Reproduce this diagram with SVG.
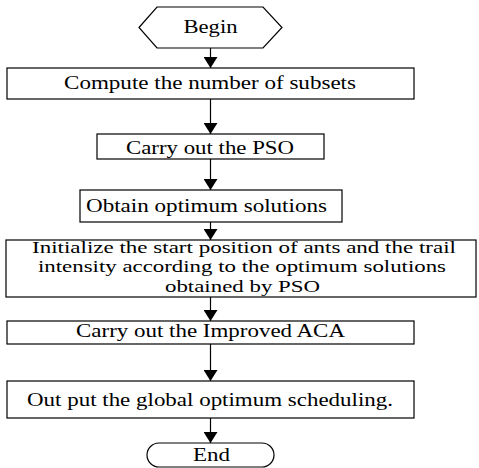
<svg xmlns="http://www.w3.org/2000/svg" width="479" height="468" viewBox="0 0 479 468">
<style>
.box{fill:#fff;stroke:#000;stroke-width:1.2}
.t{font-family:"Liberation Serif","Times New Roman",serif;font-size:19px;fill:#000;text-anchor:middle}
.s{font-size:17px}
.c{stroke:#000;stroke-width:1.2;fill:none;marker-end:url(#ah)}
</style>
<defs>
<marker id="ah" viewBox="0 0 11 14" refX="11" refY="7" markerWidth="11" markerHeight="14" orient="auto" markerUnits="userSpaceOnUse">
<path d="M0,0 L11,7 L0,14 z" fill="#000"/>
</marker>
</defs>
<rect width="479" height="468" fill="#fff"/>
<g id="connectors">
<line class="c" x1="210.5" y1="48" x2="210.5" y2="68"/>
<line class="c" x1="210.5" y1="99" x2="210.5" y2="134"/>
<line class="c" x1="210.5" y1="159" x2="210.5" y2="190"/>
<line class="c" x1="210.5" y1="222" x2="210.5" y2="240"/>
<line class="c" x1="210.5" y1="297" x2="210.5" y2="321"/>
<line class="c" x1="210.5" y1="344" x2="210.5" y2="381"/>
<line class="c" x1="210.5" y1="418" x2="210.5" y2="443"/>
</g>
<g id="begin">
<polygon class="box" points="139,27.5 157,7 263,7 282,27.5 263,48 157,48"/>
<text class="t" x="210.5" y="33" textLength="54" lengthAdjust="spacingAndGlyphs">Begin</text>
</g>
<g id="compute">
<rect class="box" x="7" y="68" width="407" height="31"/>
<text class="t" x="210" y="89" textLength="292" lengthAdjust="spacingAndGlyphs">Compute the number of subsets</text>
</g>
<g id="pso">
<rect class="box" x="97" y="134" width="227" height="25"/>
<text class="t" x="210" y="154" textLength="168" lengthAdjust="spacingAndGlyphs">Carry out the PSO</text>
</g>
<g id="obtain">
<rect class="box" x="80" y="190" width="262" height="32"/>
<text class="t" x="206.5" y="212" textLength="241" lengthAdjust="spacingAndGlyphs">Obtain optimum solutions</text>
</g>
<g id="initialize">
<rect class="box" x="6" y="240" width="470" height="57"/>
<text class="t s" x="244" y="253" textLength="424" lengthAdjust="spacingAndGlyphs">Initialize the start position of ants and the trail</text>
<text class="t s" x="242" y="272" textLength="408" lengthAdjust="spacingAndGlyphs">intensity according to the optimum solutions</text>
<text class="t s" x="242.5" y="292" textLength="155" lengthAdjust="spacingAndGlyphs">obtained by PSO</text>
</g>
<g id="aca">
<rect class="box" x="7" y="321" width="407" height="23"/>
<text class="t" x="210.5" y="337" textLength="269" lengthAdjust="spacingAndGlyphs">Carry out the Improved ACA</text>
</g>
<g id="output">
<rect class="box" x="7" y="381" width="407" height="37"/>
<text class="t" x="210" y="406" textLength="366" lengthAdjust="spacingAndGlyphs">Out put the global optimum scheduling.</text>
</g>
<g id="end">
<rect class="box" x="147" y="443" width="127" height="24" rx="12" ry="12"/>
<text class="t" x="211.5" y="461" textLength="37" lengthAdjust="spacingAndGlyphs">End</text>
</g>
</svg>
